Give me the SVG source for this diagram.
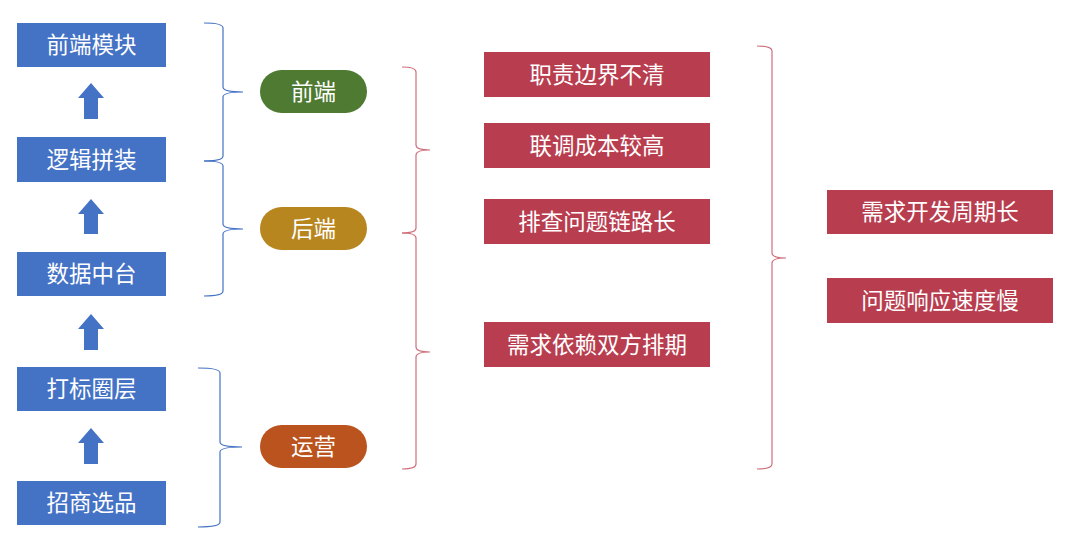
<svg xmlns="http://www.w3.org/2000/svg" width="1080" height="543" viewBox="0 0 1080 543">
<style>
.bx{fill:#4472C4}
.rd{fill:#B83E4F}
.t{font-family:"Noto Sans CJK SC","Noto Sans",sans-serif;font-size:22.5px;fill:#fff;text-anchor:middle;dominant-baseline:central}
.bb{fill:none;stroke:#4472C4;stroke-width:1.2}
.rb{fill:none;stroke:#D0707C;stroke-width:1.2}
.ar{fill:#4472C4}
</style>
<rect width="1080" height="543" fill="#fff"/>
<g id="connectors">
<path class="ar" d="M91,83 L104,98 L98,98 L98,119 L84,119 L84,98 L78,98 Z"/>
<path class="ar" d="M91,199 L104,214 L98,214 L98,234 L84,234 L84,214 L78,214 Z"/>
<path class="ar" d="M91,314 L104,329 L98,329 L98,350 L84,350 L84,329 L78,329 Z"/>
<path class="ar" d="M91,428 L104,443 L98,443 L98,464 L84,464 L84,443 L78,443 Z"/>
<path class="bb" d="M204,23 Q223,23 223,28 L223,87 Q223,92 243,92 Q223,92 223,97 L223,156 Q223,161 204,161"/>
<path class="bb" d="M204,161 Q223,161 223,166 L223,224 Q223,229 243,229 Q223,229 223,234 L223,291 Q223,296 204,296"/>
<path class="bb" d="M198,368 Q220,368 220,373 L220,442 Q220,447 242,447 Q220,447 220,452 L220,522 Q220,527 198,527"/>
<path class="rb" d="M402,67 Q416,67 416,72 L416,145 Q416,150 430,150 Q416,150 416,155 L416,228 Q416,233 402,233"/>
<path class="rb" d="M402,233 Q416,233 416,238 L416,347 Q416,352 430,352 Q416,352 416,357 L416,464 Q416,469 402,469"/>
<path class="rb" d="M757,46 Q772,46 772,51 L772,253 Q772,258 786,258 Q772,258 772,263 L772,464 Q772,469 757,469"/>
</g>
<g id="n1"><rect class="bx" x="17" y="23" width="149" height="44"/><text class="t" x="91.5" y="43">前端模块</text></g>
<g id="n2"><rect class="bx" x="17" y="137" width="149" height="45"/><text class="t" x="91.5" y="157.5">逻辑拼装</text></g>
<g id="n3"><rect class="bx" x="17" y="252" width="149" height="44"/><text class="t" x="91.5" y="272">数据中台</text></g>
<g id="n4"><rect class="bx" x="17" y="367" width="149" height="44"/><text class="t" x="91.5" y="387">打标圈层</text></g>
<g id="n5"><rect class="bx" x="17" y="481" width="149" height="44"/><text class="t" x="91.5" y="501">招商选品</text></g>
<g id="p1"><rect x="260" y="70" width="107" height="43" rx="21.5" fill="#4E7A32"/><text class="t" x="313.5" y="89.5">前端</text></g>
<g id="p2"><rect x="260" y="207" width="107" height="43" rx="21.5" fill="#B8861F"/><text class="t" x="313.5" y="226.5">后端</text></g>
<g id="p3"><rect x="260" y="425" width="107" height="43" rx="21.5" fill="#BA531E"/><text class="t" x="313.5" y="444.5">运营</text></g>
<g id="r1"><rect class="rd" x="484" y="52" width="226" height="45"/><text class="t" x="597" y="72.5">职责边界不清</text></g>
<g id="r2"><rect class="rd" x="484" y="123" width="226" height="45"/><text class="t" x="597" y="143.5">联调成本较高</text></g>
<g id="r3"><rect class="rd" x="484" y="199" width="226" height="45"/><text class="t" x="597" y="219.5">排查问题链路长</text></g>
<g id="r4"><rect class="rd" x="484" y="322" width="226" height="45"/><text class="t" x="597" y="342.5">需求依赖双方排期</text></g>
<g id="s1"><rect class="rd" x="827" y="190" width="226" height="44"/><text class="t" x="940" y="210">需求开发周期长</text></g>
<g id="s2"><rect class="rd" x="827" y="278" width="226" height="45"/><text class="t" x="940" y="298.5">问题响应速度慢</text></g>
</svg>
